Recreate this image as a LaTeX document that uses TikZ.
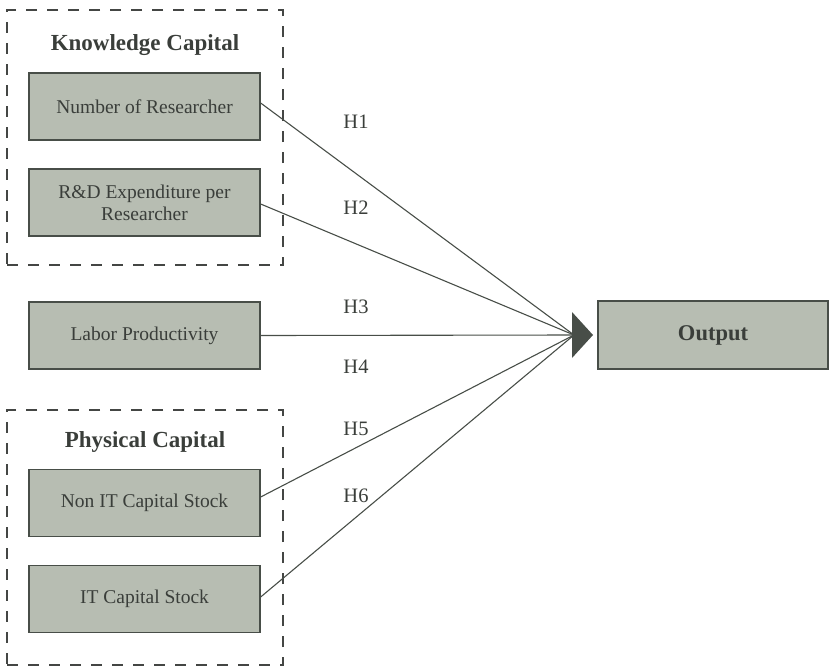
\documentclass[tikz,border=0pt]{standalone}
\usepackage{fontspec}
\setmainfont{Liberation Serif}
\definecolor{boxfill}{RGB}{183,189,178}
\definecolor{boxline}{RGB}{72,78,72}
\definecolor{txt}{RGB}{58,62,58}
\definecolor{dashc}{RGB}{68,70,68}
\begin{document}
\begin{tikzpicture}[x=1pt,y=-1pt,
  varbox/.style={draw=boxline, line width=1.3pt, fill=boxfill, minimum width=231pt, minimum height=67pt, inner sep=0pt, align=center, text=txt, font=\fontsize{19.5}{22}\selectfont},
  groupbox/.style={draw=dashc, line width=2.4pt, dash pattern=on 11pt off 10pt, minimum width=276pt, minimum height=255pt, inner sep=0pt},
  grouptitle/.style={text=txt, font=\fontsize{23}{26}\selectfont\bfseries},
  hyp/.style={text=txt, font=\fontsize{20.5}{23}\selectfont},
  link/.style={draw=boxline, line width=1.1pt}
]
\useasboundingbox (0,0) rectangle (832,667);
% group boxes
\node[groupbox] (kc) at (145,137.5) {};
\node[groupbox] (pc) at (145,537.5) {};
\node[grouptitle] (kct) at (145,45) {Knowledge Capital};
\node[grouptitle] (pct) at (145,442) {Physical Capital};
% variable boxes
\node[varbox] (nr) at (144.5,106.5) {Number of Researcher};
\node[varbox] (rd) at (144.5,202.5) {R\&D Expenditure per\\Researcher};
\node[varbox] (lp) at (144.5,335.5) {Labor Productivity};
\node[varbox] (nit) at (144.5,503) {Non IT Capital Stock};
\node[varbox] (it) at (144.5,599) {IT Capital Stock};
\node[varbox, minimum width=230pt, minimum height=68pt, font=\fontsize{22.5}{25}\selectfont\bfseries] (out) at (713,335) {Output};
% convergence point and arrowhead
\coordinate (conv) at (574,335);
\coordinate (tip) at (593,335);
\fill[boxline] (572,312) -- (tip) -- (572,358) -- cycle;
% links
\draw[link] ([yshift=3.5pt]nr.east) -- (conv);
\draw[link] ([yshift=-1.5pt]rd.east) -- (conv);
\draw[link] (lp.east) -- (conv);
\draw[link] ([yshift=6pt]nit.east) -- (conv);
\draw[link] ([yshift=2pt]it.east) -- (conv);
% hypothesis labels
\node[hyp] (h1) at (356,122) {H1};
\node[hyp] (h2) at (356,208) {H2};
\node[hyp] (h3) at (356,307) {H3};
\node[hyp] (h4) at (356,367) {H4};
\node[hyp] (h5) at (356,429) {H5};
\node[hyp] (h6) at (356,496) {H6};
\end{tikzpicture}
\end{document}
